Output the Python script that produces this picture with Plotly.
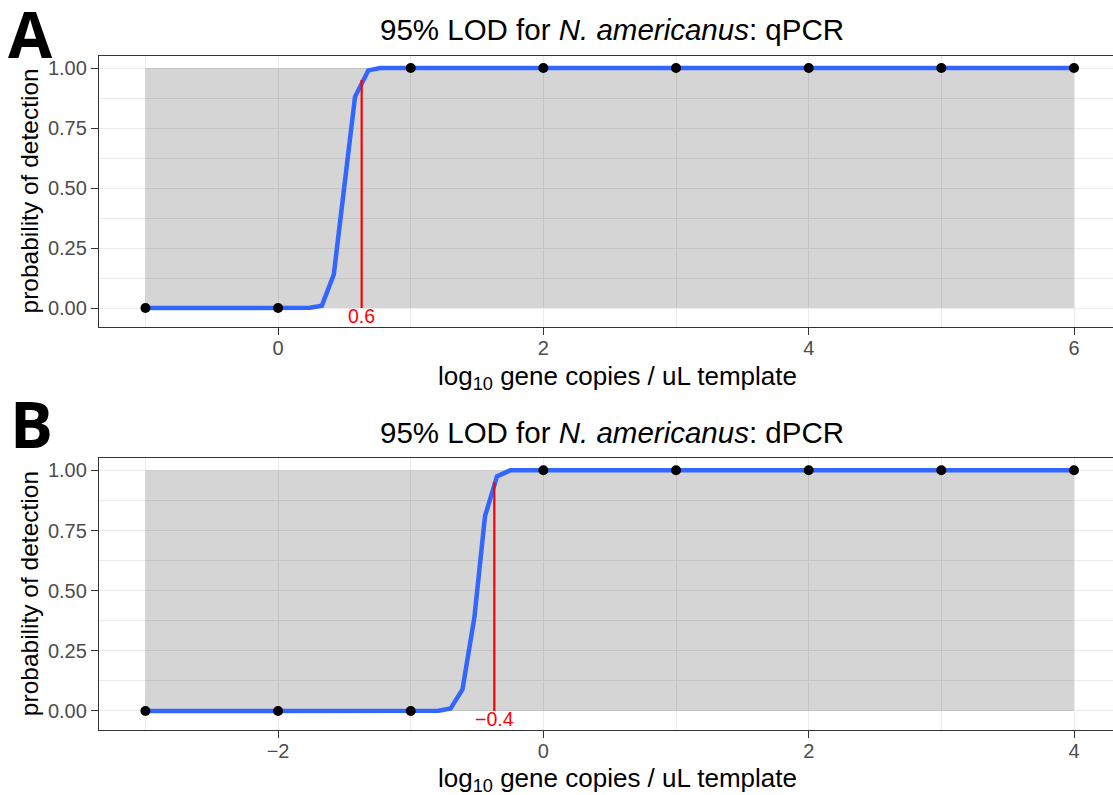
import plotly.graph_objects as go

# ---------------- data ----------------
# Panel A (qPCR)
obs_x_A = [-1, 0, 1, 2, 3, 4, 5, 6]
obs_y_A = [0, 0, 1, 1, 1, 1, 1, 1]
fit_x_A = [-1, 0.24, 0.33, 0.42, 0.50, 0.58, 0.68, 0.77, 6]
fit_y_A = [0, 0.001, 0.01, 0.14, 0.51, 0.88, 0.99, 1.0, 1.0]
lod_A = 0.63
lod_label_A = "0.6"
title_A = "95% LOD for <i>N. americanus</i>: qPCR"

# Panel B (dPCR)
obs_x_B = [-3, -2, -1, 0, 1, 2, 3, 4]
obs_y_B = [0, 0, 0, 1, 1, 1, 1, 1]
fit_x_B = [-3, -0.79, -0.70, -0.61, -0.52, -0.44, -0.35, -0.25, 4]
fit_y_B = [0, 0.001, 0.01, 0.09, 0.39, 0.81, 0.975, 1.0, 1.0]
lod_B = -0.37
lod_label_B = "\u22120.4"
title_B = "95% LOD for <i>N. americanus</i>: dPCR"

lod_level = 0.95
x_ticks_A = [0, 2, 4, 6]
x_ticks_B = [-2, 0, 2, 4]
y_ticks = [0, 0.25, 0.5, 0.75, 1.0]

x_title = "log<sub>10</sub> gene copies / uL template"
y_title = "probability of detection"

# ---------------- layout constants ----------------
W, H = 1113, 795
def py(p):  # pixel from top -> paper y
    return 1 - p / H
def px(p):
    return p / W

FONT = "Liberation Sans, Arial, sans-serif"
BLUE = "#3366FF"
GRID = "#EBEBEB"
AXC = "#333333"
TXT = "#4D4D4D"

fig = go.Figure()

panels = [
    dict(ox=obs_x_A, oy=obs_y_A, fx=fit_x_A, fy=fit_y_A, lod=lod_A, lab=lod_label_A,
         title=title_A, xt=x_ticks_A, xa="x", ya="y", top=56, bot=327, letter="A",
         xr=[-1.35, 6.294], ly=34, lx=30),
    dict(ox=obs_x_B, oy=obs_y_B, fx=fit_x_B, fy=fit_y_B, lod=lod_B, lab=lod_label_B,
         title=title_B, xt=x_ticks_B, xa="x2", ya="y2", top=458.3, bot=730, letter="B",
         xr=[-3.35, 4.294], ly=423, lx=31),
]

annotations = []
shapes = []
for i, p in enumerate(panels):
    xa, ya = p["xa"], p["ya"]
    # grey band over observed dose range
    shapes.append(dict(type="rect", xref=xa, yref=ya,
                       x0=min(p["ox"]), x1=max(p["ox"]), y0=0, y1=1,
                       fillcolor="rgba(0,0,0,0.165)", line=dict(width=0),
                       layer="between"))
    fig.add_trace(go.Scatter(x=p["fx"], y=p["fy"], mode="lines",
                             line=dict(color=BLUE, width=4.5), xaxis=xa, yaxis=ya,
                             showlegend=False, hoverinfo="skip"))
    fig.add_trace(go.Scatter(x=[p["lod"], p["lod"]], y=[0, lod_level], mode="lines",
                             line=dict(color="#FF0000", width=2.2), xaxis=xa, yaxis=ya,
                             showlegend=False, hoverinfo="skip"))
    fig.add_trace(go.Scatter(x=p["ox"], y=p["oy"], mode="markers",
                             marker=dict(color="black", size=10), xaxis=xa, yaxis=ya,
                             showlegend=False))
    annotations.append(dict(x=p["lod"], y=-0.035, xref=xa, yref=ya, text=p["lab"],
                            showarrow=False, font=dict(family=FONT, size=19.5, color="#FF0000"),
                            xanchor="center", yanchor="middle"))
    off = p["top"] - 56
    # title
    annotations.append(dict(x=px(612), y=py(30 + off), xref="paper", yref="paper",
                            text=p["title"], showarrow=False,
                            font=dict(family=FONT, size=29.5, color="black"),
                            xanchor="center", yanchor="middle"))
    # x axis title
    annotations.append(dict(x=px(617), y=py(377 + off), xref="paper", yref="paper",
                            text=x_title, showarrow=False,
                            font=dict(family=FONT, size=26, color="black"),
                            xanchor="center", yanchor="middle"))
    # y axis title
    annotations.append(dict(x=px(29), y=py((p["top"] + p["bot"]) / 2), xref="paper", yref="paper",
                            text=y_title, showarrow=False, textangle=-90,
                            font=dict(family=FONT, size=24.5, color="black"),
                            xanchor="center", yanchor="middle"))
    # panel letter
    annotations.append(dict(x=px(p["lx"]), y=py(p["ly"]), xref="paper", yref="paper",
                            text="<b>" + p["letter"] + "</b>", showarrow=False,
                            font=dict(family="Open Sans, Liberation Sans, sans-serif", size=64, color="black"),
                            xanchor="center", yanchor="middle"))

def xaxis_cfg(p, anchor):
    return dict(domain=[px(99), 1], range=p["xr"], anchor=anchor,
                tickmode="array", tickvals=p["xt"],
                showgrid=True, gridcolor=GRID, gridwidth=1.4,
                minor=dict(dtick=1, tick0=0, showgrid=True, gridcolor=GRID, gridwidth=0.8, ticks=""),
                showline=True, mirror=True, linecolor=AXC, linewidth=1.3,
                ticks="outside", ticklen=7, tickwidth=1.3, tickcolor=AXC,
                ticklabelstandoff=-4,
                tickfont=dict(family=FONT, size=20, color=TXT), zeroline=False)

def yaxis_cfg(p, anchor):
    return dict(domain=[py(p["bot"]), py(p["top"])], range=[-0.079, 1.05], anchor=anchor,
                tickmode="array", tickvals=y_ticks, ticktext=[f"{v:.2f}" for v in y_ticks],
                showgrid=True, gridcolor=GRID, gridwidth=1.4,
                minor=dict(dtick=0.125, tick0=0, showgrid=True, gridcolor=GRID, gridwidth=0.8, ticks=""),
                showline=True, mirror=False, linecolor=AXC, linewidth=1.3,
                ticks="outside", ticklen=7, tickwidth=1.3, tickcolor=AXC,
                tickfont=dict(family=FONT, size=20, color=TXT), zeroline=False)

fig.update_layout(
    width=W, height=H, margin=dict(l=0, r=0, t=0, b=0),
    paper_bgcolor="white", plot_bgcolor="white",
    xaxis=xaxis_cfg(panels[0], "y"), yaxis=yaxis_cfg(panels[0], "x"),
    xaxis2=xaxis_cfg(panels[1], "y2"), yaxis2=yaxis_cfg(panels[1], "x2"),
    annotations=annotations, shapes=shapes, showlegend=False,
)

fig.write_html("out.html", config={"displayModeBar": False},
               post_script="document.body.style.margin='0px';document.body.style.overflow='hidden';")
